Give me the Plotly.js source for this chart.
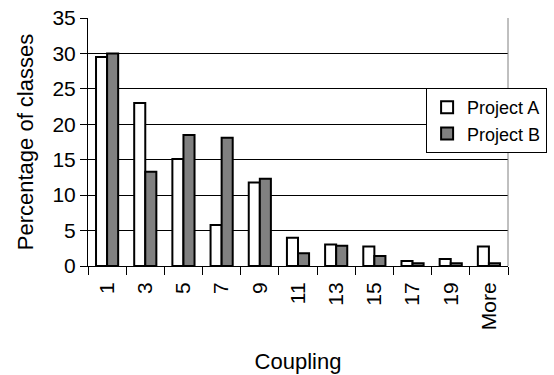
<!DOCTYPE html>
<html>
<head>
<meta charset="utf-8">
<script src="https://cdn.plot.ly/plotly-3.0.1.min.js"></script>
<style>
html,body{margin:0;padding:0;background:#fff;overflow:hidden;width:554px;height:375px;}
#chart{width:620px;height:375px;}
</style>
</head>
<body>
<div id="chart"></div>
<script>
const categories = ["1","3","5","7","9","11","13","15","17","19","More"];
const projectA = [29.5, 23.0, 15.1, 5.8, 11.8, 4.0, 3.05, 2.75, 0.7, 1.0, 2.75];
const projectB = [30.0, 13.3, 18.5, 18.1, 12.3, 1.8, 2.85, 1.4, 0.4, 0.4, 0.4];

const font = "Liberation Sans, Arial, sans-serif";
const traces = [
  {type:"bar", name:"Project A", x:categories, y:projectA,
   marker:{color:"#ffffff", line:{color:"#000000", width:2}}},
  {type:"bar", name:"Project B", x:categories, y:projectB,
   marker:{color:"#808080", line:{color:"#000000", width:2}}}
];
const layout = {
  width:620, height:375,
  margin:{l:88, r:112, t:18, b:109},
  paper_bgcolor:"#ffffff", plot_bgcolor:"#ffffff",
  font:{family:font, size:21, color:"#000000"},
  barmode:"group", bargap:0.42, bargroupgap:0,
  showlegend:true,
  legend:{x:0.805, y:0.718, xanchor:"left", yanchor:"top",
    bgcolor:"#ffffff", bordercolor:"#000000", borderwidth:1,
    font:{family:font, size:18, color:"#000000"}, tracegroupgap:0,
    itemwidth:30},
  xaxis:{type:"category", tickson:"boundaries", ticks:"outside", ticklen:8,
    tickcolor:"#000000", showline:true, linecolor:"#000000", linewidth:1,
    tickangle:-90, showgrid:false, automargin:false, ticklabelstandoff:7,
    title:{text:"Coupling", font:{family:font, size:22}, standoff:24}},
  yaxis:{range:[0,35], dtick:5, ticks:"outside", ticklen:7, tickcolor:"#000000",
    showline:true, linecolor:"#000000", linewidth:1,
    showgrid:true, gridcolor:"#000000", gridwidth:1, zeroline:false,
    automargin:false,
    title:{text:"Percentage of classes", font:{family:font, size:22}, standoff:12}},
  shapes:[{type:"line", xref:"paper", yref:"paper", x0:1, x1:1, y0:0, y1:1,
    line:{color:"#808080", width:1}}]
};
Plotly.newPlot("chart", traces, layout, {displayModeBar:false, staticPlot:true});
</script>
</body>
</html>
